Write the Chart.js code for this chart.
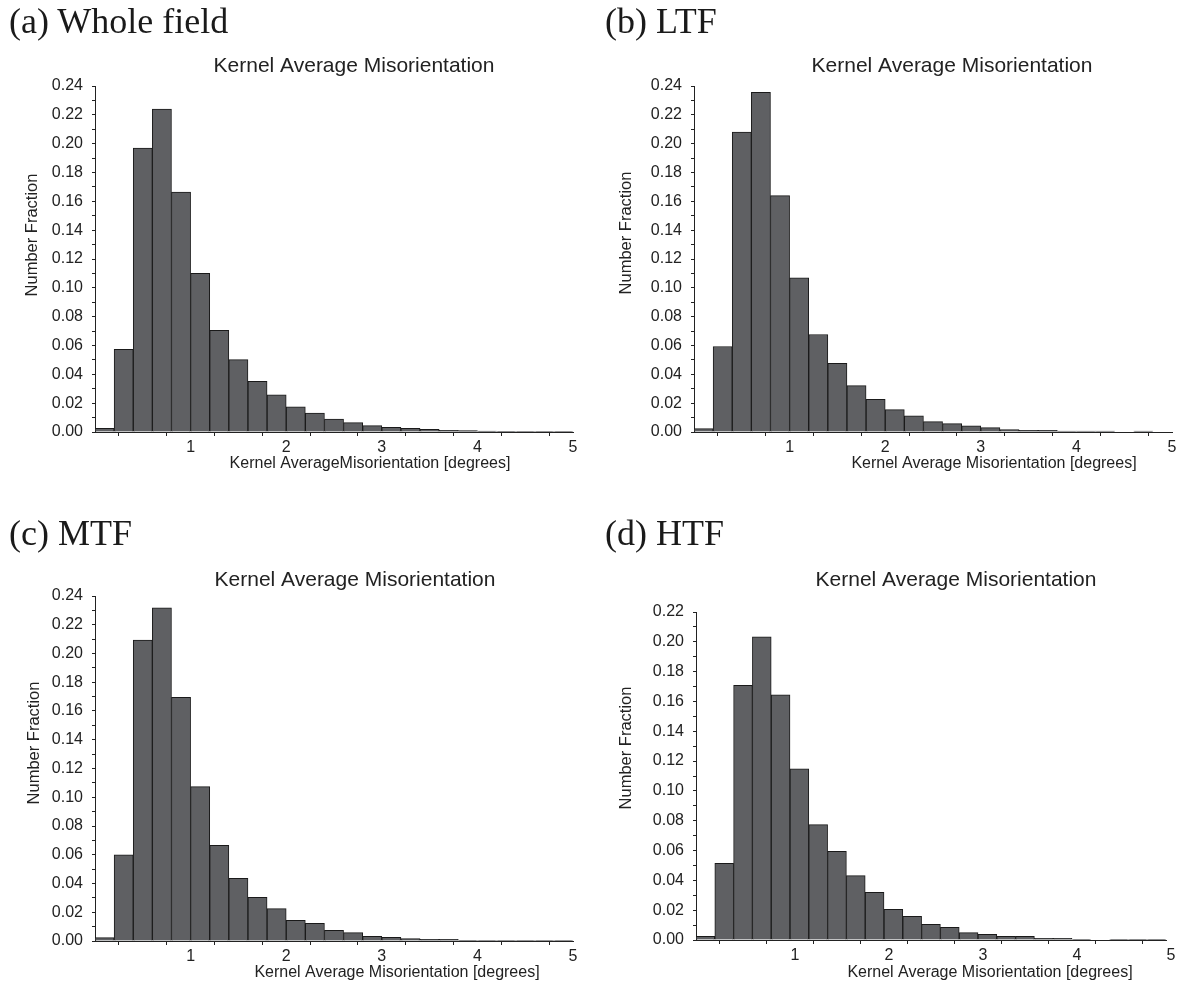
<!DOCTYPE html>
<html>
<head>
<meta charset="utf-8">
<script src="https://cdn.jsdelivr.net/npm/chart.js@4.4.0/dist/chart.umd.min.js"></script>
<style>
  body { margin: 0; background: #fff; width: 1179px; height: 986px; position: relative; overflow: hidden; }
  .panel { position: absolute; }
  .panel canvas { position: absolute; left: 0; top: 0; }
  .lbl { position: absolute; font-family: "Liberation Serif", "Times New Roman", serif; font-size: 36px; line-height: 1; color: #1a1a1a; white-space: nowrap; }
</style>
</head>
<body>
<div class="panel" style="left:0;top:0;width:590px;height:490px">
  <canvas id="chartA" width="590" height="490"></canvas>
  <div class="lbl" style="left:9px;top:3px">(a) Whole field</div>
</div>
<div class="panel" style="left:590px;top:0;width:589px;height:490px">
  <canvas id="chartB" width="589" height="490"></canvas>
  <div class="lbl" style="left:15px;top:3px">(b) LTF</div>
</div>
<div class="panel" style="left:0;top:490px;width:590px;height:496px">
  <canvas id="chartC" width="590" height="496"></canvas>
  <div class="lbl" style="left:9px;top:25px">(c) MTF</div>
</div>
<div class="panel" style="left:590px;top:490px;width:589px;height:496px">
  <canvas id="chartD" width="589" height="496"></canvas>
  <div class="lbl" style="left:15px;top:25px">(d) HTF</div>
</div>

<script>
// bin centres, 0.2 degree bins from 0 to 5
var binCenters = [0.1, 0.3, 0.5, 0.7, 0.9, 1.1, 1.3, 1.5, 1.7, 1.9,
                  2.1, 2.3, 2.5, 2.7, 2.9, 3.1, 3.3, 3.5, 3.7, 3.9,
                  4.1, 4.3, 4.5, 4.7, 4.9];

var wholeField = [0.0025, 0.0574, 0.1970, 0.2240, 0.1664, 0.1100, 0.0706, 0.0502, 0.0352, 0.0257,
                  0.0174, 0.0132, 0.0090, 0.0065, 0.0044, 0.0032, 0.0025, 0.0018, 0.0012, 0.0009,
                  0.0006, 0.0005, 0.0004, 0.0003, 0.0003];
var ltf = [0.0023, 0.0593, 0.2080, 0.2356, 0.1640, 0.1070, 0.0676, 0.0477, 0.0322, 0.0227,
           0.0155, 0.0113, 0.0072, 0.0058, 0.0042, 0.0030, 0.0016, 0.0012, 0.0012, 0.0007,
           0.0007, 0.0007, 0, 0.0007, 0];
var mtf = [0.0023, 0.0600, 0.2094, 0.2317, 0.1695, 0.1074, 0.0666, 0.0436, 0.0304, 0.0225,
           0.0144, 0.0123, 0.0074, 0.0058, 0.0032, 0.0026, 0.0016, 0.0012, 0.0012, 0.0005,
           0.0004, 0.0004, 0.0003, 0.0003, 0.0003];
var htf = [0.0025, 0.0515, 0.1708, 0.2034, 0.1645, 0.1148, 0.0774, 0.0595, 0.0432, 0.0320,
           0.0206, 0.0159, 0.0105, 0.0085, 0.0049, 0.0038, 0.0025, 0.0025, 0.0011, 0.0011,
           0.0005, 0, 0.0005, 0.0005, 0.0005];

var xTickLabels = ['1', '2', '3', '4', '5'];

var chartTitle = 'Kernel Average Misorientation';
var yTitle = 'Number Fraction';

var sans = '"Liberation Sans", Arial, Helvetica, sans-serif';
var ink = '#222';

// draws the chart title and the two axis titles
var panelText = {
    id: 'panelText',
    afterDraw: function (chart, args, o) {
        var ctx = chart.ctx;
        ctx.save();
        ctx.fillStyle = ink;
        ctx.textAlign = 'center';
        ctx.textBaseline = 'middle';
        ctx.font = '21px ' + sans;
        ctx.fillText(chartTitle, o.title[0], o.title[1]);
        ctx.font = '16px ' + sans;
        ctx.fillText(o.xTitle, o.xPos[0], o.xPos[1]);
        ctx.translate(o.yPos[0], o.yPos[1]);
        ctx.rotate(-Math.PI / 2);
        ctx.font = '16.5px ' + sans;
        ctx.fillText(yTitle, 0, 0);
        ctx.restore();
    }
};

function makePanel(id, values, p) {
    var ctx = document.getElementById(id).getContext('2d');
    return new Chart(ctx, {
        type: 'bar',
        data: {
            datasets: [{
                data: binCenters.map(function (x, i) { return { x: x, y: values[i] }; }),
                backgroundColor: '#5f6063',
                borderColor: '#1a1a1a',
                borderWidth: 1,
                borderSkipped: 'start',
                barPercentage: 1,
                categoryPercentage: 1
            }]
        },
        options: {
            responsive: false,
            animation: false,
            devicePixelRatio: 1,
            layout: { padding: p.pad },
            plugins: {
                legend: { display: false },
                tooltip: { enabled: false },
                panelText: { title: p.title, xTitle: p.xTitle, xPos: p.xPos, yPos: p.yPos }
            },
            scales: {
                x: {
                    type: 'linear',
                    min: 0,
                    max: 5,
                    offset: false,
                    afterFit: function (s) { s.height = p.xH; },
                    grid: { drawOnChartArea: false, tickLength: 4, color: ink },
                    border: { color: ink, width: 1 },
                    ticks: {
                        stepSize: 0.5,
                        autoSkip: false,
                        maxRotation: 0,
                        padding: 2,
                        labelOffset: p.xLabelShift,
                        color: ink,
                        font: { family: sans, size: 16 },
                        callback: function (v) {
                            return (Number.isInteger(v) && v > 0) ? xTickLabels[v - 1] : '';
                        }
                    }
                },
                y: {
                    min: 0,
                    max: p.yMax,
                    afterFit: function (s) { s.width = p.yW; },
                    grid: { drawOnChartArea: false, tickLength: 3, color: ink },
                    border: { color: ink, width: 1 },
                    ticks: {
                        stepSize: 0.01,
                        autoSkip: false,
                        padding: 9,
                        color: ink,
                        font: { family: sans, size: 16 },
                        callback: function (v) {
                            return Math.round(v * 100) % 2 === 0 ? v.toFixed(2) : '';
                        }
                    }
                }
            }
        },
        plugins: [panelText]
    });
}

makePanel('chartA', wholeField, {
    pad: { left: 0, top: 86, right: 17, bottom: 18 }, yW: 95, xH: 40, yMax: 0.24, xLabelShift: 0,
    title: [354, 66], xTitle: 'Kernel AverageMisorientation [degrees]', xPos: [370, 464], yPos: [32, 235]
});
makePanel('chartB', ltf, {
    pad: { left: 0, top: 86, right: 7, bottom: 18 }, yW: 104, xH: 40, yMax: 0.24, xLabelShift: 0,
    title: [362, 66], xTitle: 'Kernel Average Misorientation [degrees]', xPos: [404, 464], yPos: [36, 233]
});
makePanel('chartC', mtf, {
    pad: { left: 0, top: 106, right: 17, bottom: 5 }, yW: 95, xH: 40, yMax: 0.24, xLabelShift: 0,
    title: [355, 90], xTitle: 'Kernel Average Misorientation [degrees]', xPos: [397, 483], yPos: [34, 253]
});
makePanel('chartD', htf, {
    pad: { left: 0, top: 122, right: 13, bottom: 6 }, yW: 106, xH: 40, yMax: 0.22, xLabelShift: 5,
    title: [366, 90], xTitle: 'Kernel Average Misorientation [degrees]', xPos: [400, 483], yPos: [36, 258]
});
</script>
</body>
</html>
